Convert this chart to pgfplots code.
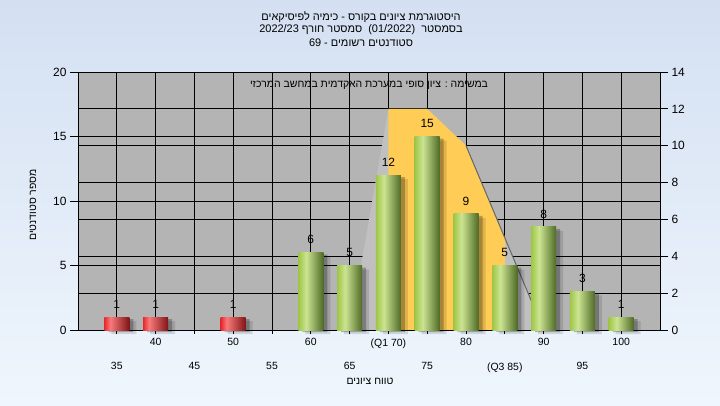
\documentclass[border=0pt]{standalone}
\usepackage{pgfplots}
\pgfplotsset{compat=1.18}
\usepackage{fontspec}
\setmainfont{Liberation Sans}
\newfontfamily\heb[Script=Hebrew]{Liberation Sans}
\TeXXeTstate=1

\definecolor{bgtop}{RGB}{212,224,242}
\definecolor{bgbot}{RGB}{239,246,253}
\definecolor{plotgray}{RGB}{180,180,180}
\definecolor{wedge}{RGB}{192,192,192}
\definecolor{iqr}{RGB}{255,204,85}
\definecolor{gA}{RGB}{158,198,70}
\definecolor{gB}{RGB}{204,228,146}
\definecolor{gC}{RGB}{78,106,38}
\definecolor{rA}{RGB}{232,40,46}
\definecolor{rB}{RGB}{248,122,122}
\definecolor{rC}{RGB}{128,20,22}

% the middle 50bp of a 100bp shading is stretched over each bar
\pgfdeclarehorizontalshading{greenbar}{100bp}{color(0bp)=(gA); color(25bp)=(gA); color(41bp)=(gB); color(75bp)=(gC); color(100bp)=(gC)}
\pgfdeclarehorizontalshading{redbar}{100bp}{color(0bp)=(rA); color(25bp)=(rA); color(37bp)=(rB); color(75bp)=(rC); color(100bp)=(rC)}

\pgfplotsset{
  base/.style={at={(78bp,75bp)}, anchor=south west, scale only axis,
    width=582bp, height=258bp, xmin=30, xmax=105,
    axis line style={black, line width=0.9bp},
    every tick/.style={black, line width=0.9bp},
    /pgf/number format/assume math mode=true},
  gbar/.style={ybar, bar width=25bp, draw=none, shade, shading=greenbar, nodes near coords},
  rbar/.style={ybar, bar width=25bp, draw=none, shade, shading=redbar, nodes near coords},
}

\begin{document}
\begin{tikzpicture}[x=1bp,y=1bp]
\shade[top color=bgtop, bottom color=bgbot] (0,0) rectangle (720,405);

% background and grid of both scales
\begin{axis}[base, ymin=0, ymax=20,
  axis background/.style={fill=plotgray},
  xtick={35,40,...,100},
  ytick={2.857,5,5.714,8.571,10,11.429,14.286,15,17.143},
  xticklabels={}, yticklabels={},
  grid=major, major grid style={black, line width=0.9bp},
  major tick length=0pt]
\end{axis}

% right scale: quartile polygon
\begin{axis}[base, ymin=0, ymax=14,
  axis y line*=right, axis x line=none,
  ytick={0,2,...,14}, tick align=outside, major tick length=8bp,
  yticklabel style={font=\fontsize{12}{14}\selectfont}]
\addplot[fill=wedge, draw=none] coordinates {(65,0) (70,12) (75,12) (80,10) (90,0)} \closedcycle;
\addplot[fill=iqr, draw=none] coordinates {(70,0) (70,12) (75,12) (80,10) (85,5) (85,0)} \closedcycle;
\addplot[draw=black!60, line width=1bp] coordinates {(80,10) (90,0)};
\end{axis}

% bars
\begin{axis}[base, ymin=0, ymax=20, clip=false,
  axis y line=none, axis x line*=bottom,
  xtick={40,50,...,100},
  xticklabels={40,50,60,{(Q1 70)},80,90,100},
  extra x ticks={35,45,...,95},
  extra x tick labels={35,45,55,65,75,{(Q3 85)},95},
  extra x tick style={tick label style={yshift=-24bp}},
  xticklabel style={font=\fontsize{10.5}{12}\selectfont, yshift=-1bp},
  tick align=outside, major tick length=4bp,
  every node near coord/.append style={font=\fontsize{12}{14}\selectfont, yshift=5bp, black}]
\addplot[ybar, bar width=25bp, bar shift=4bp, yshift=-2bp, fill=black, fill opacity=0.25, draw=none]
  coordinates {(35,1) (40,1) (50,1) (60,6) (65,5) (70,12) (75,15) (80,9) (85,5) (90,8) (95,3) (100,1)};
\addplot[ybar, bar width=25bp, bar shift=7bp, yshift=-4bp, fill=black, fill opacity=0.12, draw=none]
  coordinates {(35,1) (40,1) (50,1) (60,6) (65,5) (70,12) (75,15) (80,9) (85,5) (90,8) (95,3) (100,1)};
% one plot per bar, so each bar gets its own shading
\addplot[rbar] coordinates {(35,1)};
\addplot[rbar] coordinates {(40,1)};
\addplot[rbar] coordinates {(50,1)};
\addplot[gbar] coordinates {(60,6)};
\addplot[gbar] coordinates {(65,5)};
\addplot[gbar] coordinates {(70,12)};
\addplot[gbar] coordinates {(75,15)};
\addplot[gbar] coordinates {(80,9)};
\addplot[gbar] coordinates {(85,5)};
\addplot[gbar] coordinates {(90,8)};
\addplot[gbar] coordinates {(95,3)};
\addplot[gbar] coordinates {(100,1)};
\end{axis}

% left scale ticks
\begin{axis}[base, ymin=0, ymax=20,
  axis y line*=left, axis x line=none,
  ytick={0,5,...,20}, tick align=outside, major tick length=8bp,
  yticklabel style={font=\fontsize{12}{14}\selectfont}]
\end{axis}

\begin{scope}[font=\heb\fontsize{11}{13}\selectfont]
\node at (361,388) {\beginR היסטוגרמת ציונים בקורס - כימיה לפיסיקאים\endR};
\node at (361,375) {\beginR בסמסטר~ \beginL(01/2022)\endL{}~ סמסטר חורף \beginL 2022/23\endL\endR};
\node at (361,362) {\beginR סטודנטים רשומים - \beginL 69\endL\endR};
\end{scope}
\begin{scope}[font=\heb\fontsize{10.5}{12}\selectfont]
\node at (369,320) {\beginR במשימה : ציון סופי במערכת האקדמית במחשב המרכזי\endR};
\node at (370,24) {\beginR טווח ציונים\endR};
\node[rotate=90] at (33,200) {\beginR מספר סטודנטים\endR};
\end{scope}

\pgfresetboundingbox
\path (0,0) rectangle (720,405);
\end{tikzpicture}
\end{document}
